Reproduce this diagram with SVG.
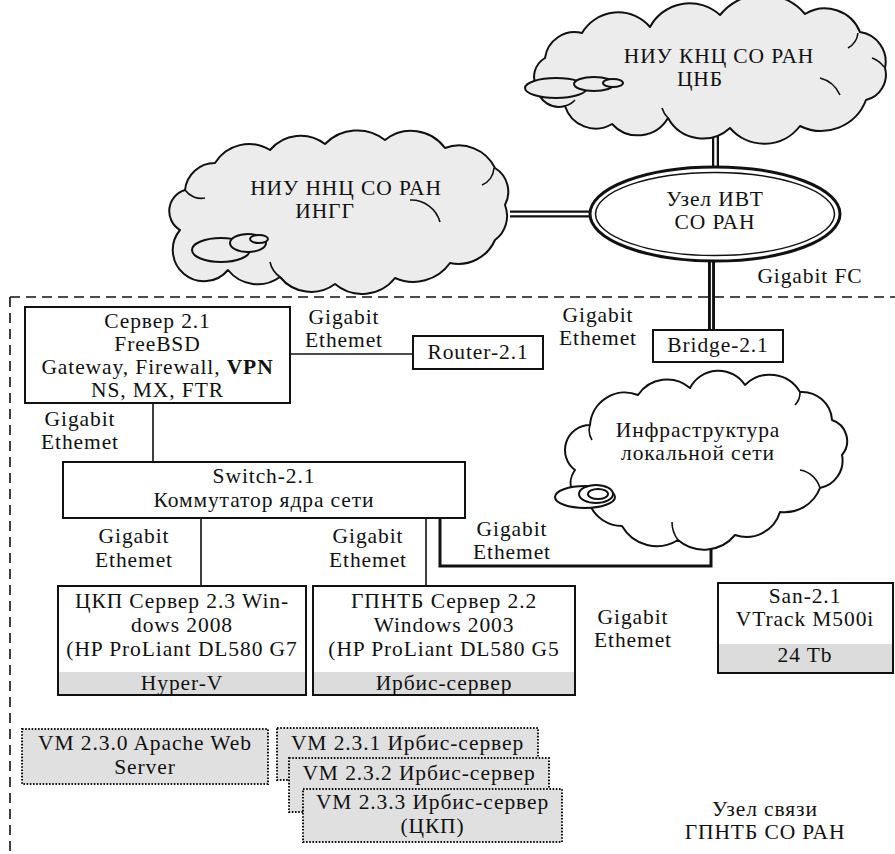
<svg xmlns="http://www.w3.org/2000/svg" width="895" height="854" viewBox="0 0 895 854" font-family="Liberation Serif">
<style>
text{font-size:21.5px;letter-spacing:0.9px;fill:#111;text-anchor:middle}
.box{fill:#fff;stroke:#111;stroke-width:2}
.band{fill:#dcdcdc;stroke:none}
.vm{fill:#e0e0e0;stroke:#111;stroke-width:2;stroke-dasharray:1.6 1.6}
.cloud{stroke:#111;stroke-width:2;stroke-linejoin:round}
.ln{stroke:#111;stroke-width:1.6;fill:none}
</style>
<rect width="895" height="854" fill="#fff"/>

<!-- boundary -->
<path d="M10 297 H895 M10 297 V854" fill="none" stroke="#111" stroke-width="1.6" stroke-dasharray="10 6"/>

<!-- connectors -->
<g id="connectors">
  <path d="M715.5 127 V169" stroke="#111" stroke-width="7" fill="none"/>
  <path d="M715.5 127 V169" stroke="#fff" stroke-width="2.5" fill="none"/>
  <path d="M510 214 H592" stroke="#111" stroke-width="7" fill="none"/>
  <path d="M510 214 H592" stroke="#fff" stroke-width="2.5" fill="none"/>
  <path d="M711.5 260 V330" stroke="#111" stroke-width="7" fill="none"/>
  <path d="M711.5 260 V330" stroke="#fff" stroke-width="1.2" fill="none"/>
  <path class="ln" d="M290 354 H413"/>
  <path class="ln" d="M153 403 V462"/>
  <path class="ln" d="M201 518 V586"/>
  <path class="ln" d="M426 518 V586"/>
  <path d="M440 518 V566 H711 V540" fill="none" stroke="#111" stroke-width="3"/>
</g>

<!-- cloud 1 -->
<g id="cloud-knc">
  <path class="cloud" fill="#ececec" d="M537 88 A22 22 0 0 1 545 58 A30 30 0 0 1 582 33 A42 42 0 0 1 650 27 A45 45 0 0 1 720 15 A55 55 0 0 1 805 14 A38 38 0 0 1 860 32 A30 30 0 0 1 885 68 A26 26 0 0 1 866 100 A48 48 0 0 1 800 126 A45 45 0 0 1 730 128 A40 40 0 0 1 668 118 A35 35 0 0 1 612 124 A32 32 0 0 1 565 106 A22 22 0 0 1 537 88 Z"/>
  <path class="ln" d="M858 33 A20 20 0 0 1 848 48 M884 67 A25 25 0 0 0 872 58 M820 78 A30 30 0 0 1 840 95 M668 118 A25 25 0 0 1 662 108 M565 106 A20 20 0 0 0 575 100"/>
  <ellipse class="cloud" fill="#ececec" cx="556" cy="88" rx="31" ry="10"/>
  <ellipse class="cloud" fill="#ececec" cx="594" cy="84" rx="20" ry="7"/>
  <ellipse class="cloud" fill="#ececec" cx="613" cy="83" rx="10" ry="4"/>
  <text font-family="Liberation Serif" x="719" y="63">НИУ КНЦ СО РАН</text>
  <text font-family="Liberation Serif" x="700" y="86">ЦНБ</text>
</g>

<!-- cloud 2 -->
<g id="cloud-nnc">
  <path class="cloud" fill="#ececec" d="M180 230 A22 22 0 0 1 185 190 A30 30 0 0 1 215 163 A40 40 0 0 1 270 150 A40 40 0 0 1 325 144 A45 45 0 0 1 385 140 A42 42 0 0 1 445 148 A40 40 0 0 1 495 168 A28 28 0 0 1 505 205 A30 30 0 0 1 495 240 A40 40 0 0 1 450 263 A45 45 0 0 1 395 278 A42 42 0 0 1 335 284 A40 40 0 0 1 280 277 A38 38 0 0 1 228 270 A30 30 0 0 1 180 230 Z"/>
  <path class="ln" d="M494 168 A20 20 0 0 1 482 185 M410 200 A30 30 0 0 1 440 222 M185 190 A20 20 0 0 0 205 198 M280 277 A25 25 0 0 1 270 262"/>
  <ellipse class="cloud" fill="#ececec" cx="221" cy="250" rx="29" ry="12"/>
  <ellipse class="cloud" fill="#ececec" cx="248" cy="243" rx="18" ry="9"/>
  <ellipse class="cloud" fill="#ececec" cx="259" cy="239" rx="9" ry="4"/>
  <text font-family="Liberation Serif" x="346" y="195">НИУ ННЦ СО РАН</text>
  <text font-family="Liberation Serif" x="325" y="218">ИНГГ</text>
</g>

<!-- ellipse node -->
<g id="uzel-ivt">
  <ellipse cx="715" cy="214" rx="125" ry="47" fill="#fff" stroke="#111" stroke-width="3"/>
  <ellipse cx="715" cy="214" rx="119.5" ry="41.5" fill="none" stroke="#111" stroke-width="1.5"/>
  <text font-family="Liberation Serif" x="715" y="206">Узел ИВТ</text>
  <text font-family="Liberation Serif" x="715" y="229">СО РАН</text>
</g>

<text font-family="Liberation Serif" x="810" y="283">Gigabit FC</text>

<!-- Server 2.1 -->
<g id="server21">
  <rect class="box" x="25" y="307" width="265" height="96"/>
  <text font-family="Liberation Serif" x="157.5" y="328">Сервер 2.1</text>
  <text font-family="Liberation Serif" x="157.5" y="351">FreeBSD</text>
  <text font-family="Liberation Serif" x="157.5" y="374">Gateway, Firewall, <tspan font-weight="bold">VPN</tspan></text>
  <text font-family="Liberation Serif" x="157.5" y="397">NS, MX, FTR</text>
</g>

<g id="lbl1"><text font-family="Liberation Serif" x="344" y="324">Gigabit</text><text font-family="Liberation Serif" x="344" y="347">Ethemet</text></g>

<g id="router21">
  <rect class="box" x="413" y="336" width="130" height="33"/>
  <text font-family="Liberation Serif" x="478" y="359">Router-2.1</text>
</g>

<g id="lbl2"><text font-family="Liberation Serif" x="598" y="322">Gigabit</text><text font-family="Liberation Serif" x="598" y="345">Ethemet</text></g>

<g id="bridge21">
  <rect class="box" x="653" y="330" width="130" height="32"/>
  <text font-family="Liberation Serif" x="718" y="352">Bridge-2.1</text>
</g>

<g id="lbl3"><text font-family="Liberation Serif" x="80" y="426">Gigabit</text><text font-family="Liberation Serif" x="80" y="449">Ethemet</text></g>

<g id="switch21">
  <rect class="box" x="63" y="462" width="402" height="56"/>
  <text font-family="Liberation Serif" x="264" y="483">Switch-2.1</text>
  <text font-family="Liberation Serif" x="264" y="507">Коммутатор ядра сети</text>
</g>

<!-- cloud 3 -->
<g id="cloud-local">
  <path class="cloud" fill="#fff" d="M575 470 A25 25 0 0 1 590 425 A35 35 0 0 1 638 395 A35 35 0 0 1 690 388 A32 32 0 0 1 745 385 A35 35 0 0 1 800 392 A30 30 0 0 1 832 420 A22 22 0 0 1 842 455 A28 28 0 0 1 820 488 A38 38 0 0 1 780 512 A35 35 0 0 1 735 535 A40 40 0 0 1 678 540 A40 40 0 0 1 622 526 A35 35 0 0 1 590 505 A22 22 0 0 1 575 470 Z"/>
  <path class="ln" d="M590 425 A18 18 0 0 0 592 440 M800 392 A18 18 0 0 1 795 405 M820 488 A25 25 0 0 0 800 470 M678 540 A30 30 0 0 1 672 522"/>
  <ellipse class="cloud" fill="#fff" cx="585" cy="497" rx="30" ry="11"/>
  <ellipse class="cloud" fill="#fff" cx="596" cy="494" rx="17" ry="9"/>
  <ellipse class="cloud" fill="#fff" cx="598" cy="494" rx="10" ry="5"/>
  <text font-family="Liberation Serif" x="698" y="437">Инфраструктура</text>
  <text font-family="Liberation Serif" x="698" y="460">локальной сети</text>
</g>

<g id="lbl4"><text font-family="Liberation Serif" x="134" y="543">Gigabit</text><text font-family="Liberation Serif" x="134" y="567">Ethemet</text></g>
<g id="lbl5"><text font-family="Liberation Serif" x="368" y="543">Gigabit</text><text font-family="Liberation Serif" x="368" y="567">Ethemet</text></g>
<g id="lbl6"><text font-family="Liberation Serif" x="512" y="536">Gigabit</text><text font-family="Liberation Serif" x="512" y="559">Ethemet</text></g>

<g id="server23">
  <rect class="box" x="58" y="586" width="248" height="109"/>
  <rect class="band" x="59" y="672" width="246" height="22"/>
  <rect x="58" y="586" width="248" height="109" fill="none" stroke="#111" stroke-width="2"/>
  <text font-family="Liberation Serif" x="182" y="608">ЦКП Сервер 2.3 Win-</text>
  <text font-family="Liberation Serif" x="182" y="632">dows 2008</text>
  <text font-family="Liberation Serif" x="182" y="656">(HP ProLiant DL580 G7</text>
  <text font-family="Liberation Serif" x="182" y="690">Hyper-V</text>
</g>

<g id="server22">
  <rect class="box" x="313" y="586" width="262" height="109"/>
  <rect class="band" x="314" y="672" width="260" height="22"/>
  <rect x="313" y="586" width="262" height="109" fill="none" stroke="#111" stroke-width="2"/>
  <text font-family="Liberation Serif" x="444" y="608">ГПНТБ Сервер 2.2</text>
  <text font-family="Liberation Serif" x="444" y="632">Windows 2003</text>
  <text font-family="Liberation Serif" x="444" y="656">(HP ProLiant DL580 G5</text>
  <text font-family="Liberation Serif" x="444" y="690">Ирбис-сервер</text>
</g>

<g id="lbl7"><text font-family="Liberation Serif" x="633" y="624">Gigabit</text><text font-family="Liberation Serif" x="633" y="647">Ethemet</text></g>

<g id="san21">
  <rect class="box" x="718" y="583" width="175" height="90"/>
  <rect class="band" x="719" y="644" width="173" height="28"/>
  <rect x="718" y="583" width="175" height="90" fill="none" stroke="#111" stroke-width="2"/>
  <text font-family="Liberation Serif" x="805" y="603">San-2.1</text>
  <text font-family="Liberation Serif" x="805" y="626">VTrack M500i</text>
  <text font-family="Liberation Serif" x="805" y="662">24 Tb</text>
</g>

<g id="vm230">
  <rect class="vm" x="22" y="729" width="246" height="55"/>
  <text font-family="Liberation Serif" x="145" y="750">VM 2.3.0 Apache Web</text>
  <text font-family="Liberation Serif" x="145" y="774">Server</text>
</g>
<g id="vm231">
  <rect class="vm" x="277" y="728" width="261" height="52"/>
  <text font-family="Liberation Serif" x="407.5" y="750">VM 2.3.1 Ирбис-сервер</text>
</g>
<g id="vm232">
  <rect class="vm" x="289" y="758" width="260" height="54"/>
  <text font-family="Liberation Serif" x="419" y="780">VM 2.3.2 Ирбис-сервер</text>
</g>
<g id="vm233">
  <rect class="vm" x="303" y="789" width="259" height="53"/>
  <text font-family="Liberation Serif" x="432.5" y="809">VM 2.3.3 Ирбис-сервер</text>
  <text font-family="Liberation Serif" x="432.5" y="833">(ЦКП)</text>
</g>

<g id="uzel-svyazi">
  <text font-family="Liberation Serif" x="765" y="816">Узел связи</text>
  <text font-family="Liberation Serif" x="765" y="839">ГПНТБ СО РАН</text>
</g>
</svg>
